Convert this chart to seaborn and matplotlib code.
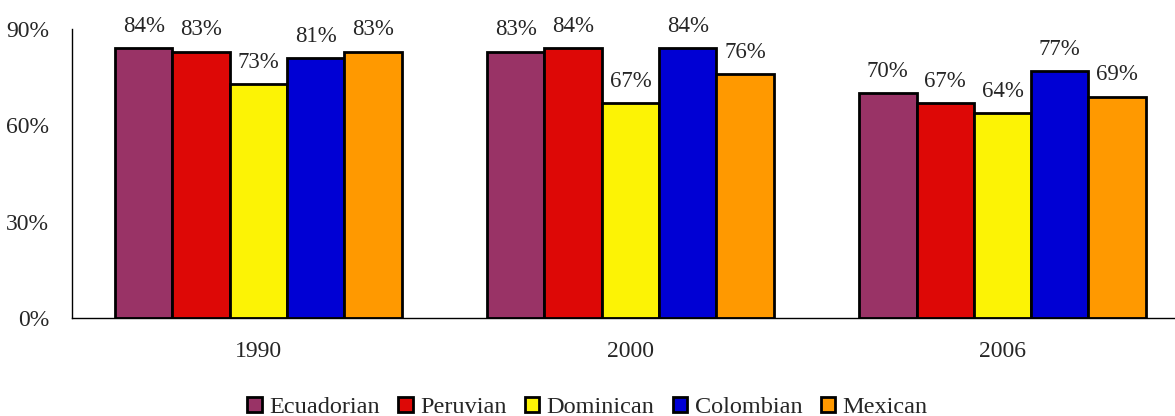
import pandas as pd
import matplotlib.pyplot as plt
import seaborn as sns
from matplotlib.patches import Patch


YEARS = ["1990", "2000", "2006"]
GROUPS = ["Ecuadorian", "Peruvian", "Dominican", "Colombian", "Mexican"]
ECUADORIAN = [84, 83, 70]
PERUVIAN = [83, 84, 67]
DOMINICAN = [73, 67, 64]
COLOMBIAN = [81, 84, 77]
MEXICAN = [83, 76, 69]
COLORS = ["#993366", "#DD0806", "#FCF305", "#0000D4", "#FF9900"]


def build_frame():
    rows = []
    for name, vals in zip(GROUPS, [ECUADORIAN, PERUVIAN, DOMINICAN, COLOMBIAN, MEXICAN]):
        for year, v in zip(YEARS, vals):
            rows.append({"Year": year, "Group": name, "Value": v})
    return pd.DataFrame(rows)


def plot_bars(df):
    sns.set_style("white")
    plt.rcParams["font.family"] = ["Liberation Serif", "DejaVu Serif"]

    fig = plt.figure(figsize=(11.75, 4.16), dpi=100)
    ax = fig.add_axes([0.0615, 0.235, 0.95, 0.695])

    sns.barplot(
        data=df,
        x="Year",
        y="Value",
        hue="Group",
        hue_order=GROUPS,
        palette=COLORS,
        saturation=1,
        width=0.77,
        edgecolor="black",
        linewidth=2,
        ax=ax,
        legend=False
    )

    for container in ax.containers:
        ax.bar_label(container, fmt="%d%%", padding=8, fontsize=16.5)

    ax.set_ylim(0, 90)
    ax.set_yticks([0, 30, 60, 90])
    ax.set_yticklabels(["0%", "30%", "60%", "90%"], fontsize=17)
    ax.tick_params(axis="x", labelsize=17, pad=13)
    ax.tick_params(axis="y", pad=13)
    ax.set_xlabel("")
    ax.set_ylabel("")

    for side in ["top", "right"]:
        ax.spines[side].set_visible(False)
    for side in ["left", "bottom"]:
        ax.spines[side].set_color("black")
        ax.spines[side].set_linewidth(1)

    handles = [Patch(facecolor=c, edgecolor="black", linewidth=2) for c in COLORS]
    fig.legend(
        handles,
        GROUPS,
        loc="lower center",
        bbox_to_anchor=(0.5, -0.058),
        ncol=5,
        frameon=False,
        fontsize=17.5,
        handlelength=0.6,
        handleheight=0.6,
        handletextpad=0.3,
        columnspacing=0.75
    )

    fig.savefig("out.png", dpi=100)


if __name__ == "__main__":
    df = build_frame()
    plot_bars(df)
